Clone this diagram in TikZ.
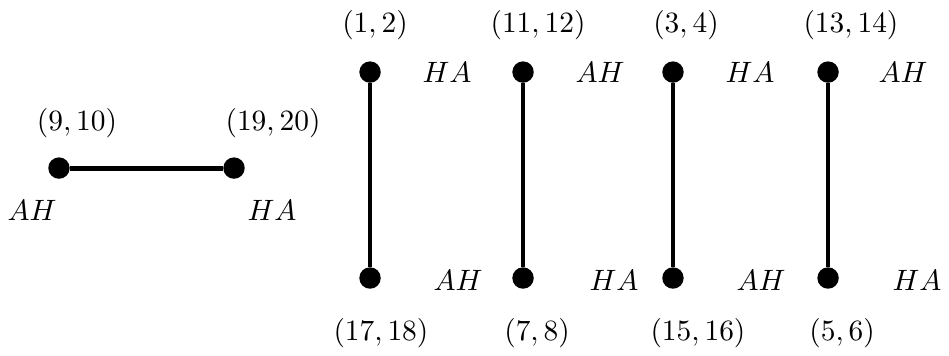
\documentclass[tikz,border=0pt]{standalone}
\usepackage{tikz}
\usetikzlibrary{positioning}

\begin{document}
\begin{tikzpicture}[
        vert/.style={circle, fill=black, inner sep=0pt, minimum size=0.28cm},
        edge/.style={line width=1.8pt},
        lab/.style={inner sep=1pt, font=\fontsize{11.2pt}{13pt}\selectfont}]
        \useasboundingbox (0,0) rectangle (12.405,4.641);
        % horizontal pair
        \node[vert] (v9)  at (0.771,2.444) {};
        \node[vert] (v19) at (3.059,2.444) {};
        % vertical pairs
        \node[vert] (v1)  at (4.837,3.699) {};
        \node[vert] (v17) at (4.837,1.007) {};
        \node[vert] (v11) at (6.837,3.699) {};
        \node[vert] (v7)  at (6.837,1.007) {};
        \node[vert] (v3)  at (8.797,3.699) {};
        \node[vert] (v15) at (8.797,1.007) {};
        \node[vert] (v13) at (10.824,3.699) {};
        \node[vert] (v5)  at (10.824,1.007) {};
        \foreach \a/\b in {v9/v19, v1/v17, v11/v7, v3/v15, v13/v5} \draw[edge] (\a) -- (\b);
        % pair labels
        \node[lab] (t9)  at (1.007,3.033)  {$(9,10)$};
        \node[lab] (t19) at (3.569,3.033)  {$(19,20)$};
        \node[lab] (t1)  at (4.902,4.314)  {$(1,2)$};
        \node[lab] (t11) at (7.033,4.314)  {$(11,12)$};
        \node[lab] (t3)  at (8.967,4.314)  {$(3,4)$};
        \node[lab] (t13) at (11.124,4.314) {$(13,14)$};
        \node[lab] (t17) at (4.980,0.288)  {$(17,18)$};
        \node[lab] (t7)  at (7.020,0.288)  {$(7,8)$};
        \node[lab] (t15) at (9.124,0.288)  {$(15,16)$};
        \node[lab] (t5)  at (11.007,0.288) {$(5,6)$};
        % side labels
        \node[lab] (s9)  at (0.418,1.895)  {$AH$};
        \node[lab] (s19) at (3.556,1.895)  {$HA$};
        \node[lab] (s1)  at (5.843,3.699)  {$HA$};
        \node[lab] (s11) at (7.843,3.699)  {$AH$};
        \node[lab] (s3)  at (9.804,3.699)  {$HA$};
        \node[lab] (s13) at (11.804,3.699) {$AH$};
        \node[lab] (s17) at (5.987,0.980)  {$AH$};
        \node[lab] (s7)  at (8.026,0.980)  {$HA$};
        \node[lab] (s15) at (9.948,0.980)  {$AH$};
        \node[lab] (s5)  at (11.987,0.980) {$HA$};
    \end{tikzpicture}
\end{document}
